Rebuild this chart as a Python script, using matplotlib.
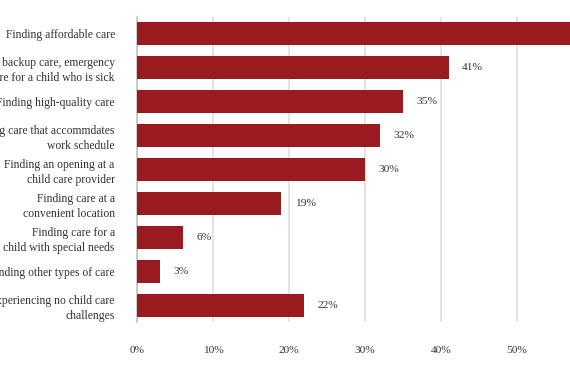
import matplotlib.pyplot as plt
import numpy as np

plt.rcParams['font.family'] = ['Liberation Serif', 'DejaVu Serif']

categories = [
    "Finding affordable care",
    "Finding backup care, emergency\ncare for a child who is sick",
    "Finding high-quality care",
    "Finding care that accommdates\nwork schedule",
    "Finding an opening at a\nchild care provider",
    "Finding care at a\nconvenient location",
    "Finding care for a\nchild with special needs",
    "Finding other types of care",
    "Experiencing no child care\nchallenges",
]
values = [59, 41, 35, 32, 30, 19, 6, 3, 22]
xticks = [0, 10, 20, 30, 40, 50, 60, 70]

bar_color = '#991B1F'
grid_color = '#DCDCDC'
text_color = '#333333'

fig = plt.figure(figsize=(5.7, 3.81), dpi=100)
# axes run past the right edge, like the cropped original
ax = fig.add_axes([137 / 570, 1 - 322 / 381, 532 / 570, 305 / 381])

y = np.arange(len(categories))
ax.barh(y, values, height=0.68, color=bar_color, zorder=3)

for yi, v in zip(y, values):
    ax.text(v + 1.8, yi, f"{v}%", va='center', ha='left', fontsize=8.2, color=text_color)

ax.set_ylim(len(categories) - 0.5, -0.5)
ax.set_xlim(0, 70)
ax.set_yticks(y)
ax.set_yticklabels(categories, fontsize=8.4, color=text_color, linespacing=1.35)
ax.set_xticks(xticks)
ax.set_xticklabels([f"{t}%" for t in xticks], fontsize=8.2, color=text_color)
ax.tick_params(axis='y', length=0, pad=16)
ax.tick_params(axis='x', length=0, pad=17)

ax.grid(axis='x', color=grid_color, linewidth=1.1, zorder=0)
for s in ['top', 'right', 'bottom']:
    ax.spines[s].set_visible(False)
ax.spines['left'].set_color('#BFBFBF')
ax.spines['left'].set_linewidth(1.1)

fig.savefig('out.png', dpi=100)
